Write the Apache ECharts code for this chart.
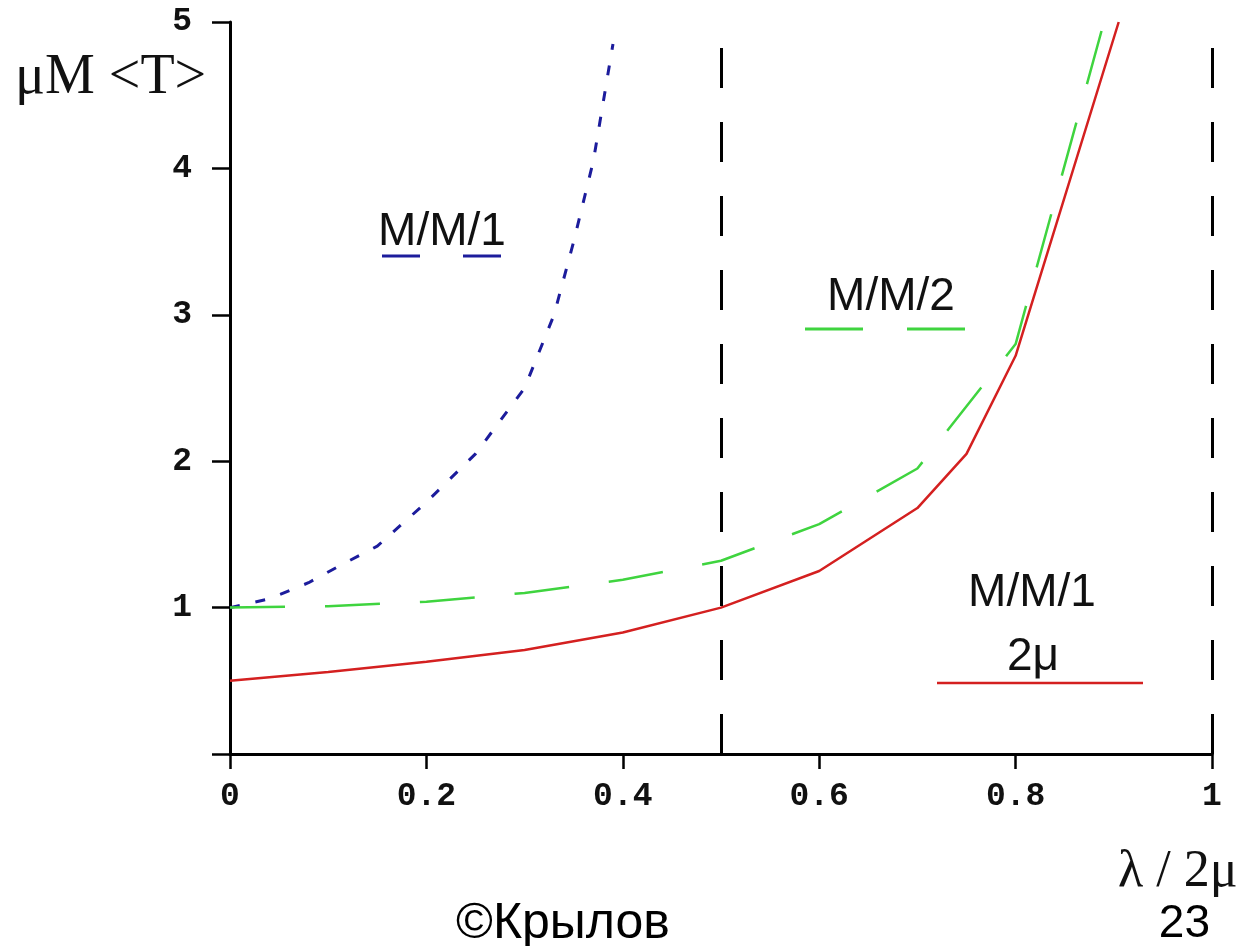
<!DOCTYPE html>
<html>
<head>
<meta charset="utf-8">
<title>M/M/1 vs M/M/2</title>
<script src="https://cdn.jsdelivr.net/npm/echarts@6/dist/echarts.min.js"></script>
<style>
  html, body { margin: 0; padding: 0; background: #fff; }
  #chart { width: 1257px; height: 946px; }
</style>
</head>
<body>
<div id="chart"></div>
<script>
  // values: [λ/2μ, μM<T>]
  const mm1 = [[0, 1.0], [0.04, 1.06], [0.08, 1.17], [0.11, 1.28], [0.15, 1.42], [0.2, 1.72],
    [0.25, 2.05], [0.3, 2.5], [0.33, 3.0], [0.35, 3.5], [0.37, 4.05], [0.39, 4.85]]
  const mm2 = [[0, 1.0], [0.1, 1.01], [0.2, 1.04], [0.3, 1.1], [0.4, 1.19], [0.5, 1.32],
    [0.6, 1.57], [0.7, 1.95], [0.8, 2.8], [0.89, 5.0]]
  const mm1Fast = [[0, 0.5], [0.1, 0.56], [0.2, 0.63], [0.3, 0.71], [0.4, 0.83], [0.5, 1.0],
    [0.6, 1.25], [0.7, 1.68], [0.75, 2.05], [0.8, 2.72], [0.905, 5.0]]
  const boundaries = [0.5, 1]
  const xTicks = [0, 0.2, 0.4, 0.6, 0.8, 1]
  const yTicks = [0, 1, 2, 3, 4, 5]

  const BLUE = '#1c1c9c'
  const GREEN = '#3fd43f'
  const RED = '#d42020'
  const tickFont = {fontFamily: 'Liberation Mono', fontWeight: 'bold', fontSize: 33, color: '#111'}

  const chart = echarts.init(document.getElementById('chart'), null, {renderer: 'canvas'})

  const baseX = {
    type: 'value', min: xTicks[0], max: xTicks[xTicks.length - 1], interval: 0.2,
    splitLine: {show: false}
  }
  const baseY = {
    type: 'value', min: yTicks[0], max: yTicks[yTicks.length - 1], interval: 1,
    splitLine: {show: false}
  }

  chart.setOption({
    animation: false,
    backgroundColor: '#fff',
    grid: {left: 230, right: 45, top: 22, bottom: 192},
    xAxis: [
      Object.assign({}, baseX, {
        axisLine: {onZero: false, lineStyle: {color: '#000', width: 3}},
        axisTick: {length: 13, lineStyle: {color: '#000', width: 2.5}},
        axisLabel: Object.assign({margin: 26, formatter: v => String(v)}, tickFont)
      }),
      Object.assign({}, baseX, {
        axisLine: {show: false},
        axisTick: {inside: true, length: 15, lineStyle: {color: '#000', width: 2.5}},
        axisLabel: {show: false}
      })
    ],
    yAxis: [
      Object.assign({}, baseY, {
        axisLine: {show: true, onZero: false, lineStyle: {color: '#000', width: 3}},
        axisTick: {show: true, length: 18, lineStyle: {color: '#000', width: 2.5}},
        axisLabel: Object.assign({margin: 38, formatter: v => v === 0 ? '' : String(v)}, tickFont)
      }),
      Object.assign({}, baseY, {
        axisLine: {show: false},
        axisTick: {show: true, inside: true, length: 15, lineStyle: {color: '#000', width: 2.5}},
        axisLabel: {show: false}
      })
    ],
    series: [
      {
        type: 'line', name: 'M/M/1', data: mm1, symbol: 'none', silent: true,
        lineStyle: {color: BLUE, width: 3, type: [10, 16]}
      },
      {
        type: 'line', name: 'M/M/2', data: mm2, symbol: 'none', silent: true,
        lineStyle: {color: GREEN, width: 2.5, type: [55, 40]}
      },
      {
        type: 'line', name: 'M/M/1 2μ', data: mm1Fast, symbol: 'none', silent: true,
        lineStyle: {color: RED, width: 2.5},
        markLine: {
          silent: true, symbol: 'none', label: {show: false},
          lineStyle: {color: '#000', width: 3, type: [40, 34]},
          data: boundaries.map(x => ({xAxis: x}))
        }
      }
    ],
    graphic: [
      {type: 'text', left: 15, top: 50, style: {text: 'μM <T>', font: '56px "Liberation Serif"', fill: '#111'}},
      {type: 'text', left: 1118, top: 846, style: {text: 'λ / 2μ', font: '52px "Liberation Serif"', fill: '#111'}},
      {type: 'text', x: 442, y: 232, style: {text: 'M/M/1', font: '46px "Liberation Sans"', fill: '#111', align: 'center', verticalAlign: 'middle'}},
      {type: 'line', shape: {x1: 382, y1: 256, x2: 503, y2: 256}, style: {stroke: BLUE, lineWidth: 3, lineDash: [38, 43]}},
      {type: 'text', x: 891, y: 297, style: {text: 'M/M/2', font: '46px "Liberation Sans"', fill: '#111', align: 'center', verticalAlign: 'middle'}},
      {type: 'line', shape: {x1: 805, y1: 329, x2: 975, y2: 329}, style: {stroke: GREEN, lineWidth: 3, lineDash: [58, 44]}},
      {type: 'text', x: 1032, y: 593, style: {text: 'M/M/1', font: '46px "Liberation Sans"', fill: '#111', align: 'center', verticalAlign: 'middle'}},
      {type: 'text', x: 1033, y: 657, style: {text: '2μ', font: '46px "Liberation Sans"', fill: '#111', align: 'center', verticalAlign: 'middle'}},
      {type: 'line', shape: {x1: 937, y1: 683, x2: 1143, y2: 683}, style: {stroke: RED, lineWidth: 2.5}},
      {type: 'text', x: 563, y: 924, style: {text: '©Крылов', font: '50px "Liberation Sans"', fill: '#000', align: 'center', verticalAlign: 'middle'}},
      {type: 'text', x: 1210, y: 924, style: {text: '23', font: '46px "Liberation Sans"', fill: '#000', align: 'right', verticalAlign: 'middle'}}
    ]
  })
</script>
</body>
</html>
